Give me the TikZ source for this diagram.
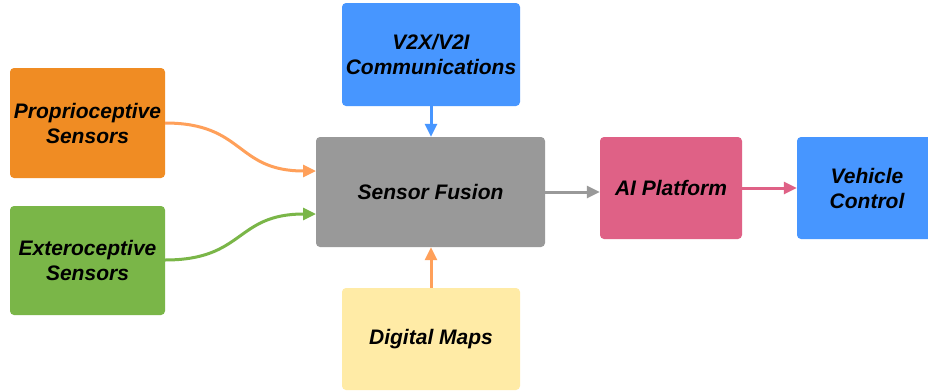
\documentclass[tikz,border=0pt]{standalone}
\usepackage{fontspec}
\setmainfont{Liberation Sans}
\usetikzlibrary{arrows.meta}
\definecolor{corange}{HTML}{F08C23}
\definecolor{carrow}{HTML}{FFA05A}
\definecolor{cgreen}{HTML}{7AB648}
\definecolor{cblue}{HTML}{4796FF}
\definecolor{cgray}{HTML}{999999}
\definecolor{cpink}{HTML}{DF6186}
\definecolor{cyellow}{HTML}{FFEBA6}
\tikzset{
  box/.style={rounded corners=4pt, inner sep=0pt, align=center,
    font=\fontsize{21}{25}\selectfont\bfseries\itshape},
  conn/.style={line width=3pt, -{Triangle[length=13pt,width=12pt]}},
}
\begin{document}
\begin{tikzpicture}[x=1pt,y=-1pt]
\useasboundingbox (0,0) rectangle (928,391);
\fill[white] (0,0) rectangle (928,391);
\node[box, fill=corange, minimum width=155pt, minimum height=110pt] (prop) at (87.5,123) {Proprioceptive\\Sensors};
\node[box, fill=cgreen, minimum width=155pt, minimum height=109pt] (ext) at (87.5,260.5) {Exteroceptive\\Sensors};
\node[box, fill=cblue, minimum width=178pt, minimum height=103pt] (v2x) at (431,54.5) {V2X/V2I\\Communications};
\node[box, fill=cgray, minimum width=229pt, minimum height=110pt] (fus) at (430.5,192) {Sensor Fusion};
\node[box, fill=cyellow, minimum width=178pt, minimum height=102pt] (maps) at (431,339) {Digital Maps};
\node[box, fill=cpink, minimum width=142pt, minimum height=102pt] (ai) at (671,188) {AI Platform};
\node[box, fill=cblue, minimum width=140pt, minimum height=102pt] (veh) at (867,188) {Vehicle\\Control};
\coordinate (p1) at (165,123);
\coordinate (p2) at (316,171);
\coordinate (e1) at (165,260);
\coordinate (e2) at (316,214);
\draw[conn, carrow] (p1) .. controls (245,123) and (235,171) .. (p2);
\draw[conn, cgreen] (e1) .. controls (245,260) and (235,214) .. (e2);
\draw[conn, cblue] (v2x.south) -- (fus.north -| v2x.south);
\draw[conn, carrow] (maps.north) -- (fus.south -| maps.north);
\draw[conn, cgray] (fus.east |- 0,192) -- (ai.west |- 0,192);
\draw[conn, cpink] (ai.east) -- (veh.west);
\end{tikzpicture}
\end{document}
